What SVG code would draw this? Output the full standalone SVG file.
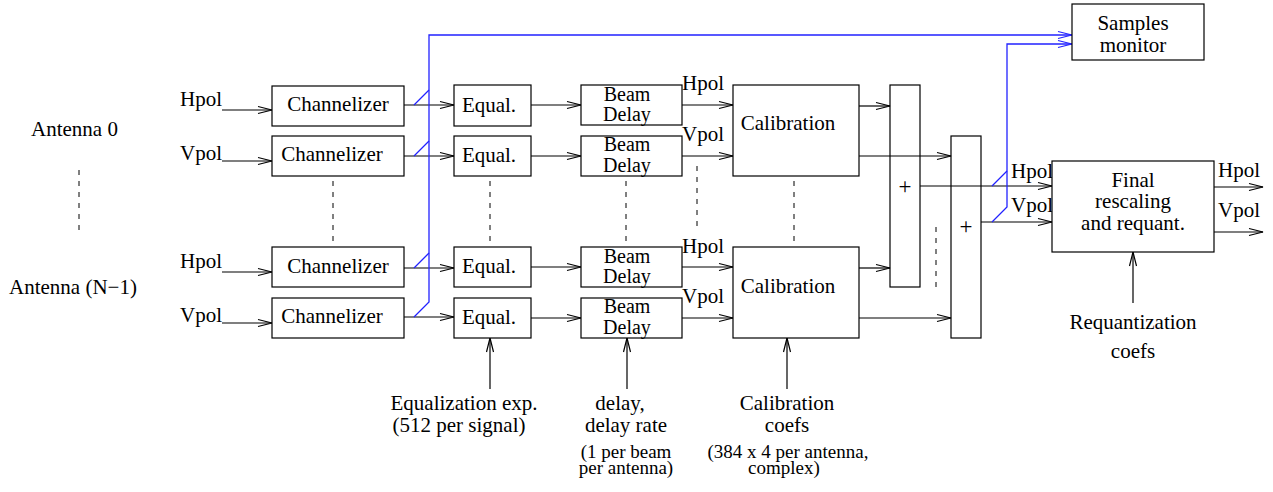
<svg xmlns="http://www.w3.org/2000/svg" width="1273" height="492" viewBox="0 0 1273 492">
<defs>
<style>
text{font-family:"Liberation Serif","Times New Roman",serif;font-size:21px;fill:#000}
.m{text-anchor:middle}
.s{font-size:19px}
.bd{font-size:20px}
.box{fill:#fff;stroke:#000;stroke-width:1.2}
.ln{fill:none;stroke:#000;stroke-width:1.2}
.bl{fill:none;stroke:#2222ff;stroke-width:1.3}
.da{fill:none;stroke:#000;stroke-width:1;stroke-dasharray:5,6}
</style>
<marker id="a" markerUnits="userSpaceOnUse" markerWidth="16" markerHeight="10" viewBox="0 0 16 10" refX="15" refY="5" orient="auto"><path d="M1,1.5 L15,5 L1,8.5" fill="none" stroke="#000" stroke-width="1.2"/></marker>
<marker id="ab" markerUnits="userSpaceOnUse" markerWidth="16" markerHeight="10" viewBox="0 0 16 10" refX="15" refY="5" orient="auto"><path d="M1,1.5 L15,5 L1,8.5" fill="none" stroke="#2222ff" stroke-width="1.2"/></marker>
</defs>
<rect width="1273" height="492" fill="#fff"/>

<g id="labels">
<text x="31" y="136">Antenna 0</text>
<text x="9" y="294">Antenna (N−1)</text>
<text x="180" y="106">Hpol</text>
<text x="180" y="160">Vpol</text>
<text x="180" y="268">Hpol</text>
<text x="180" y="322">Vpol</text>
<text x="682" y="90">Hpol</text>
<text x="682" y="141">Vpol</text>
<text x="682" y="253">Hpol</text>
<text x="682" y="303">Vpol</text>
<text x="1011" y="178">Hpol</text>
<text x="1011" y="212">Vpol</text>
<text x="1218" y="177">Hpol</text>
<text x="1218" y="217">Vpol</text>
<text class="m" x="464" y="410">Equalization exp.</text>
<text class="m" x="459" y="432">(512 per signal)</text>
<text class="m" x="620" y="410">delay,</text>
<text class="m" x="626" y="432">delay rate</text>
<text class="m s" x="626" y="458">(1 per beam</text>
<text class="m s" x="626" y="474">per antenna)</text>
<text class="m" x="787" y="410">Calibration</text>
<text class="m" x="787" y="432">coefs</text>
<text class="m s" x="788" y="458">(384 x 4 per antenna,</text>
<text class="m s" x="784" y="474">complex)</text>
<text class="m" x="1133" y="329">Requantization</text>
<text class="m" x="1133" y="358">coefs</text>
</g>

<g id="dashes">
<line class="da" x1="79" y1="170" x2="79" y2="232"/>
<line class="da" x1="333" y1="181" x2="333" y2="242"/>
<line class="da" x1="490" y1="181" x2="490" y2="242"/>
<line class="da" x1="626" y1="181" x2="626" y2="242"/>
<line class="da" x1="697" y1="166" x2="697" y2="228"/>
<line class="da" x1="794" y1="181" x2="794" y2="242"/>
<line class="da" x1="936" y1="227" x2="936" y2="288"/>
</g>

<g id="connectors">
<line class="ln" x1="222" y1="110" x2="272" y2="110" marker-end="url(#a)"/>
<line class="ln" x1="222" y1="161" x2="272" y2="161" marker-end="url(#a)"/>
<line class="ln" x1="222" y1="272" x2="272" y2="272" marker-end="url(#a)"/>
<line class="ln" x1="222" y1="323" x2="272" y2="323" marker-end="url(#a)"/>
<line class="ln" x1="404" y1="105" x2="454" y2="105" marker-end="url(#a)"/>
<line class="ln" x1="404" y1="156" x2="454" y2="156" marker-end="url(#a)"/>
<line class="ln" x1="404" y1="268" x2="454" y2="268" marker-end="url(#a)"/>
<line class="ln" x1="404" y1="317" x2="454" y2="317" marker-end="url(#a)"/>
<line class="ln" x1="531" y1="105" x2="581" y2="105" marker-end="url(#a)"/>
<line class="ln" x1="531" y1="156" x2="581" y2="156" marker-end="url(#a)"/>
<line class="ln" x1="531" y1="267" x2="581" y2="267" marker-end="url(#a)"/>
<line class="ln" x1="531" y1="318" x2="581" y2="318" marker-end="url(#a)"/>
<line class="ln" x1="682" y1="105" x2="733" y2="105" marker-end="url(#a)"/>
<line class="ln" x1="682" y1="156" x2="733" y2="156" marker-end="url(#a)"/>
<line class="ln" x1="682" y1="267" x2="733" y2="267" marker-end="url(#a)"/>
<line class="ln" x1="682" y1="318" x2="733" y2="318" marker-end="url(#a)"/>
<line class="ln" x1="859" y1="106" x2="890" y2="106" marker-end="url(#a)"/>
<line class="ln" x1="859" y1="156" x2="951" y2="156" marker-end="url(#a)"/>
<line class="ln" x1="859" y1="268" x2="890" y2="268" marker-end="url(#a)"/>
<line class="ln" x1="859" y1="318" x2="951" y2="318" marker-end="url(#a)"/>
<line class="ln" x1="920" y1="186" x2="1052" y2="186" marker-end="url(#a)"/>
<line class="ln" x1="981" y1="222" x2="1052" y2="222" marker-end="url(#a)"/>
<line class="ln" x1="1214" y1="187" x2="1263" y2="187" marker-end="url(#a)"/>
<line class="ln" x1="1214" y1="232" x2="1263" y2="232" marker-end="url(#a)"/>
<line class="ln" x1="1133" y1="303" x2="1133" y2="252" marker-end="url(#a)"/>
<line class="ln" x1="490" y1="389" x2="490" y2="338" marker-end="url(#a)"/>
<line class="ln" x1="627" y1="389" x2="627" y2="338" marker-end="url(#a)"/>
<line class="ln" x1="787" y1="389" x2="787" y2="338" marker-end="url(#a)"/>
<polyline class="bl" points="414,317 429,302 429,35 1072,35" marker-end="url(#ab)"/>
<line class="bl" x1="414" y1="105" x2="429" y2="90"/>
<line class="bl" x1="414" y1="156" x2="429" y2="141"/>
<line class="bl" x1="414" y1="268" x2="429" y2="253"/>
<polyline class="bl" points="992,222 1007,207 1007,44 1072,44" marker-end="url(#ab)"/>
<line class="bl" x1="992" y1="186" x2="1007" y2="171"/>
</g>

<g id="ch0"><rect class="box" x="272" y="86" width="132" height="40"/><text class="m" x="338" y="111">Channelizer</text></g>
<g id="ch1"><rect class="box" x="272" y="136" width="132" height="40"/><text class="m" x="332" y="161">Channelizer</text></g>
<g id="ch2"><rect class="box" x="272" y="247" width="132" height="40"/><text class="m" x="338" y="273">Channelizer</text></g>
<g id="ch3"><rect class="box" x="272" y="298" width="132" height="40"/><text class="m" x="332" y="323">Channelizer</text></g>

<g id="eq0"><rect class="box" x="454" y="85" width="77" height="41"/><text class="m" x="489" y="112">Equal.</text></g>
<g id="eq1"><rect class="box" x="454" y="136" width="77" height="40"/><text class="m" x="489" y="162">Equal.</text></g>
<g id="eq2"><rect class="box" x="454" y="247" width="77" height="40"/><text class="m" x="489" y="273">Equal.</text></g>
<g id="eq3"><rect class="box" x="454" y="298" width="77" height="40"/><text class="m" x="489" y="324">Equal.</text></g>

<g id="bd0"><rect class="box" x="581" y="85" width="101" height="40"/><text class="m bd" x="627" y="101">Beam</text><text class="m bd" x="627" y="121">Delay</text></g>
<g id="bd1"><rect class="box" x="581" y="136" width="101" height="40"/><text class="m bd" x="627" y="151">Beam</text><text class="m bd" x="627" y="172">Delay</text></g>
<g id="bd2"><rect class="box" x="581" y="247" width="101" height="40"/><text class="m bd" x="627" y="263">Beam</text><text class="m bd" x="627" y="283">Delay</text></g>
<g id="bd3"><rect class="box" x="581" y="298" width="101" height="40"/><text class="m bd" x="627" y="313">Beam</text><text class="m bd" x="627" y="334">Delay</text></g>

<g id="cal0"><rect class="box" x="733" y="85" width="126" height="91"/><text class="m" x="788" y="130">Calibration</text></g>
<g id="cal1"><rect class="box" x="733" y="247" width="126" height="91"/><text class="m" x="788" y="293">Calibration</text></g>

<g id="sum0"><rect class="box" x="890" y="85" width="30" height="202" style="fill:none"/><text class="m" x="905" y="194" style="font-size:23px">+</text></g>
<g id="sum1"><rect class="box" x="951" y="136" width="30" height="202" style="fill:none"/><text class="m" x="966" y="234" style="font-size:23px">+</text></g>

<g id="final"><rect class="box" x="1052" y="161" width="162" height="91"/><text class="m" x="1133" y="187">Final</text><text class="m" x="1133" y="208">rescaling</text><text class="m" x="1133" y="230">and requant.</text></g>

<g id="monitor"><rect class="box" x="1072" y="4" width="132" height="56"/><text class="m" x="1133" y="30">Samples</text><text class="m" x="1133" y="52">monitor</text></g>
</svg>
